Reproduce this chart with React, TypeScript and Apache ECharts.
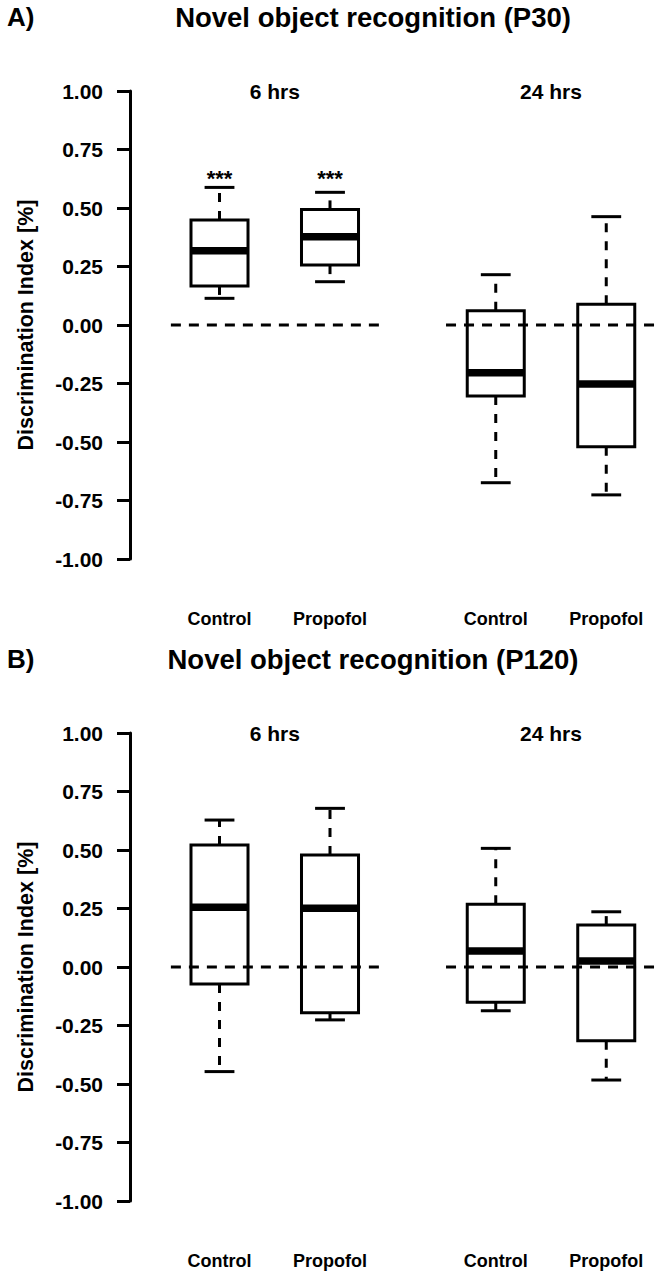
import React, { useEffect, useRef } from "react";
import * as echarts from "echarts";

// ---------- data ----------
const panelLetters = ["A)", "B)"];
const panelTitles = ["Novel object recognition (P30)", "Novel object recognition (P120)"];
const groupLabels = ["6 hrs", "24 hrs"];
const groupPositions = [1.5, 4.0];
const treatments = ["Control", "Propofol", "Control", "Propofol"];
const boxPositions = [1, 2, 3.5, 4.5];
const yTickValues = [-1, -0.75, -0.5, -0.25, 0, 0.25, 0.5, 0.75, 1];
const yAxisTitle = "Discrimination Index [%]";

// [whisker low, Q1, median, Q3, whisker high]
const p30Stats = [
  [0.114, 0.167, 0.317, 0.449, 0.588],
  [0.185, 0.256, 0.377, 0.494, 0.567],
  [-0.674, -0.303, -0.204, 0.061, 0.215],
  [-0.726, -0.52, -0.252, 0.089, 0.463],
];
const p120Stats = [
  [-0.447, -0.073, 0.255, 0.521, 0.628],
  [-0.226, -0.195, 0.251, 0.479, 0.678],
  [-0.187, -0.151, 0.068, 0.268, 0.507],
  [-0.483, -0.315, 0.026, 0.179, 0.236],
];
const p30Significance = ["***", "***", "", ""];
const p120Significance = ["", "", "", ""];
const significanceLevel = 0.626;
const zeroSegments = [
  [0.56, 2.45],
  [3.05, 5.0],
];

// ---------- layout / style ----------
const FONT = "'Liberation Sans', Arial, Helvetica, sans-serif";
const panelTops = [91, 733];
const GRID_LEFT = 130;
const GRID_WIDTH = 531.5;
const GRID_HEIGHT = 468;
const X_MIN = 0.19;
const X_MAX = 5.0;
const BOX_W = 0.516;
const CAP_W = 0.27;
const CATEGORY_LABEL_Y = -1.255;

function buildPanel(idx: number, stats: number[][], sig: string[]) {
  const boxSeries = {
    type: "custom",
    xAxisIndex: idx,
    yAxisIndex: idx,
    encode: { x: 0, y: [1, 2, 3, 4, 5] },
    data: stats.map((s, i) => [boxPositions[i], ...s]),
    z: 3,
    renderItem: (params: any, api: any) => {
      const x = api.value(0);
      const lo = api.coord([x, api.value(1)]);
      const q1 = api.coord([x, api.value(2)]);
      const med = api.coord([x, api.value(3)]);
      const q3 = api.coord([x, api.value(4)]);
      const hi = api.coord([x, api.value(5)]);
      const w = api.size([BOX_W, 0])[0];
      const cw = api.size([CAP_W, 0])[0];
      const cx = lo[0];
      const solid = { stroke: "#000", lineWidth: 3, fill: "none" };
      const dashed = { stroke: "#000", lineWidth: 3, lineDash: [9, 9] };
      return {
        type: "group",
        children: [
          { type: "line", shape: { x1: cx, y1: q3[1], x2: cx, y2: hi[1] }, style: dashed },
          { type: "line", shape: { x1: cx, y1: q1[1], x2: cx, y2: lo[1] }, style: dashed },
          { type: "line", shape: { x1: cx - cw / 2, y1: hi[1], x2: cx + cw / 2, y2: hi[1] }, style: solid },
          { type: "line", shape: { x1: cx - cw / 2, y1: lo[1], x2: cx + cw / 2, y2: lo[1] }, style: solid },
          { type: "rect", shape: { x: cx - w / 2, y: q3[1], width: w, height: q1[1] - q3[1] }, style: solid },
          { type: "line", shape: { x1: cx - w / 2, y1: med[1], x2: cx + w / 2, y2: med[1] }, style: { stroke: "#000", lineWidth: 7.5 } },
        ],
      };
    },
  };

  const zeroSeries = zeroSegments.map((seg) => ({
    type: "line",
    xAxisIndex: idx,
    yAxisIndex: idx,
    data: [
      [seg[0], 0],
      [seg[1], 0],
    ],
    showSymbol: false,
    symbol: "none",
    z: 4,
    lineStyle: { color: "#000", width: 3, type: [10, 8] },
  }));

  const textItems: { x: number; y: number; text: string; size: number }[] = [];
  groupLabels.forEach((g, i) => textItems.push({ x: groupPositions[i], y: 1.0, text: g, size: 21 }));
  treatments.forEach((t, i) => textItems.push({ x: boxPositions[i], y: CATEGORY_LABEL_Y, text: t, size: 18 }));
  sig.forEach((s, i) => {
    if (s) textItems.push({ x: boxPositions[i], y: significanceLevel, text: s, size: 22 });
  });

  const textSeries = {
    type: "custom",
    xAxisIndex: idx,
    yAxisIndex: idx,
    clip: false,
    encode: { x: 0, y: 1 },
    data: textItems.map((t) => [t.x, t.y]),
    z: 5,
    renderItem: (params: any, api: any) => {
      const t = textItems[params.dataIndex];
      const p = api.coord([api.value(0), api.value(1)]);
      return {
        type: "text",
        x: p[0],
        y: p[1],
        style: {
          text: t.text,
          fill: "#000",
          font: `bold ${t.size}px ${FONT}`,
          textAlign: "center",
          textVerticalAlign: "middle",
        },
      };
    },
  };

  return [boxSeries, ...zeroSeries, textSeries];
}

export default function App() {
  const ref = useRef<HTMLDivElement>(null);

  useEffect(() => {
    if (!ref.current) return;
    const chart = echarts.init(ref.current, null, { renderer: "svg" });

    const grids = panelTops.map((top) => ({ left: GRID_LEFT, top, width: GRID_WIDTH, height: GRID_HEIGHT }));
    const xAxes = panelTops.map((_, i) => ({
      type: "value",
      gridIndex: i,
      min: X_MIN,
      max: X_MAX,
      show: false,
    }));
    const yAxes = panelTops.map((_, i) => ({
      type: "value",
      gridIndex: i,
      min: yTickValues[0],
      max: yTickValues[yTickValues.length - 1],
      interval: 0.25,
      axisLine: { show: true, lineStyle: { color: "#000", width: 3 } },
      axisTick: { show: true, length: 13, lineStyle: { color: "#000", width: 3 } },
      axisLabel: {
        color: "#000",
        fontSize: 21,
        fontWeight: "bold",
        fontFamily: FONT,
        margin: 27,
        formatter: (v: number) => v.toFixed(2),
      },
      splitLine: { show: false },
      name: yAxisTitle,
      nameLocation: "middle",
      nameGap: 93,
      nameRotate: 90,
      nameTextStyle: { color: "#000", fontSize: 21.5, fontWeight: "bold", fontFamily: FONT },
    }));

    const graphics: any[] = [];
    panelTops.forEach((top, i) => {
      const ty = top - 74;
      graphics.push({
        type: "text",
        x: 7,
        y: ty,
        style: { text: panelLetters[i], fill: "#000", font: `bold 26px ${FONT}`, textAlign: "left", textVerticalAlign: "middle" },
      });
      graphics.push({
        type: "text",
        x: 373,
        y: ty,
        style: { text: panelTitles[i], fill: "#000", font: `bold 27.5px ${FONT}`, textAlign: "center", textVerticalAlign: "middle" },
      });
    });

    chart.setOption({
      animation: false,
      backgroundColor: "#fff",
      grid: grids,
      xAxis: xAxes,
      yAxis: yAxes,
      graphic: graphics,
      series: [...buildPanel(0, p30Stats, p30Significance), ...buildPanel(1, p120Stats, p120Significance)],
    });

    return () => chart.dispose();
  }, []);

  return (
    <div
      ref={ref}
      style={{ position: "absolute", left: 0, top: 0, width: 662, height: 1277, background: "#fff" }}
    />
  );
}
